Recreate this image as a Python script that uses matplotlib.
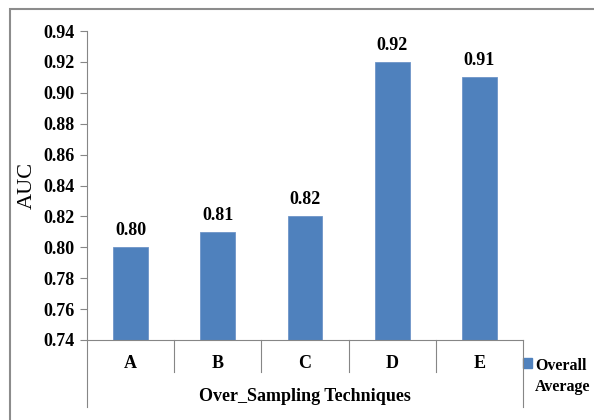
import numpy as np
import matplotlib.pyplot as plt
from matplotlib.patches import Rectangle

# data
techniques = ['A', 'B', 'C', 'D', 'E']
auc_values = [0.80, 0.81, 0.82, 0.92, 0.91]
series_name = 'Overall\nAverage'
y_ticks = [0.74, 0.76, 0.78, 0.80, 0.82, 0.84, 0.86, 0.88, 0.90, 0.92, 0.94]

plt.rcParams['font.family'] = ['Liberation Serif', 'DejaVu Serif']
bar_color = '#4F81BD'
axis_grey = '#868686'
fs = 13

fig = plt.figure(figsize=(5.94, 4.2), dpi=100)
ax = fig.add_axes([87/594, 1-340/420, 436/594, 309/420])

x = np.arange(len(techniques))
bars = ax.bar(x, auc_values, width=0.40, color=bar_color,
              edgecolor='#6E95C8', linewidth=0.6, zorder=2)

ax.set_ylim(0.74, 0.94)
ax.set_xlim(-0.5, len(techniques) - 0.5)
ax.set_yticks(y_ticks)
ax.set_yticklabels(['%.2f' % v for v in y_ticks], fontsize=fs, fontweight='bold')
ax.tick_params(axis='y', direction='out', length=5, width=0.8, color=axis_grey, pad=4)

ax.set_xticks(x)
ax.set_xticklabels(techniques, fontsize=fs, fontweight='bold')
ax.tick_params(axis='x', length=0, pad=11)

for side in ['top', 'right']:
    ax.spines[side].set_visible(False)
for side in ['left', 'bottom']:
    ax.spines[side].set_color(axis_grey)
    ax.spines[side].set_linewidth(0.8)

# Excel style category box below the axis
trans = ax.get_xaxis_transform()
ax.plot([-0.5, -0.5], [0, -0.217], color=axis_grey, lw=0.8, transform=trans, clip_on=False)
ax.plot([4.5, 4.5], [0, -0.217], color=axis_grey, lw=0.8, transform=trans, clip_on=False)
for sep in x[:-1] + 0.5:
    ax.plot([sep, sep], [0, -0.104], color=axis_grey, lw=0.8, transform=trans, clip_on=False)

ax.bar_label(bars, labels=['%.2f' % v for v in auc_values], padding=6,
             fontsize=fs, fontweight='bold')

ax.set_ylabel('AUC', fontsize=16)
ax.yaxis.set_label_coords(-0.136, 0.5)
ax.yaxis.label.set_va('center')

ax.set_xlabel('Over_Sampling Techniques', fontsize=fs, fontweight='bold')
ax.xaxis.set_label_coords(0.5, -0.184)
ax.xaxis.label.set_va('center')

# legend: square beside the first line of the two-line label
ax.add_patch(Rectangle((1.0, -0.091), 0.0206, 0.032, transform=ax.transAxes,
                       color=bar_color, clip_on=False))
ax.text(1.027, -0.058, series_name, transform=ax.transAxes, ha='left', va='top',
        fontsize=11.5, fontweight='bold', linespacing=1.45)

# outer chart border
fig.patches.append(Rectangle((10/594, -0.05), 1.0, 0.05 + 1 - 9/420,
                             transform=fig.transFigure, fill=False,
                             edgecolor='#8C8C8C', linewidth=1.5))

fig.savefig('out.png', dpi=100)
